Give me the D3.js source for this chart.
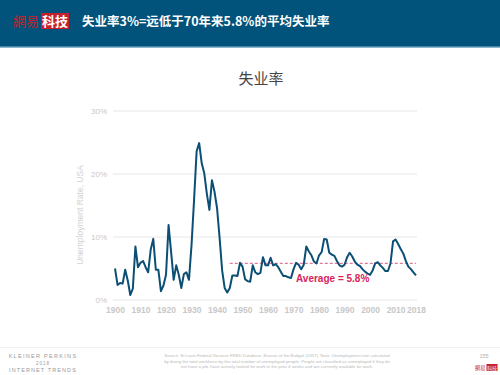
<!DOCTYPE html>
<html><head><meta charset="utf-8">
<script src="https://cdn.jsdelivr.net/npm/d3@7"></script>
<style>
html,body{margin:0;padding:0;background:#fff;}
svg{display:block;font-family:"Liberation Sans",Arial,"Noto Sans CJK SC",sans-serif;}
</style></head>
<body>
<svg id="c" width="500" height="375"></svg>
<script>
const years = d3.range(1900, 2019);
const rates = [
 5.0,2.4,2.7,2.6,4.8,3.1,0.8,1.8,8.5,5.2,
 5.9,6.2,5.2,4.4,8.0,9.7,4.8,4.8,1.4,2.3,
 4.0,11.9,7.6,3.2,5.5,4.0,1.9,4.1,4.4,3.2,
 8.7,15.9,23.6,24.9,21.7,20.1,16.9,14.3,19.0,17.2,
 14.6,9.9,4.7,1.9,1.2,1.9,3.9,3.9,3.8,5.9,
 5.3,3.3,3.0,2.9,5.5,4.4,4.1,4.3,6.8,5.5,
 5.5,6.7,5.5,5.7,5.2,4.5,3.8,3.8,3.6,3.5,
 4.9,5.9,5.6,4.9,5.6,8.5,7.7,7.1,6.1,5.8,
 7.1,7.6,9.7,9.6,7.5,7.2,7.0,6.2,5.5,5.3,
 5.6,6.8,7.5,6.9,6.1,5.6,5.4,4.9,4.5,4.2,
 4.0,4.7,5.8,6.0,5.5,5.1,4.6,4.6,5.8,9.3,
 9.6,8.9,8.1,7.4,6.2,5.3,4.9,4.4,3.9
];
const xTicks = [1900,1910,1920,1930,1940,1950,1960,1970,1980,1990,2000,2010,2018];
const yTicks = [0,10,20,30];
const average = 5.8;
const avgStart = 1945;
const headerTitle = "失业率3%=远低于70年来5.8%的平均失业率";
const chartTitle = "失业率";
const yLabel = "Unemployment Rate, USA";
const avgLabel = "Average = 5.8%";
const sourceLines = [
 "Source: St Louis Federal Reserve FRED Database, Bureau of the Budget (1957). Note: Unemployment rate calculated",
 "by diving the total workforce by the total number of unemployed people. People are classified as unemployed if they do",
 "not have a job, have actively looked for work in the prior 4 weeks and are currently available for work."
];

const svg = d3.select("#c");

// header
svg.append("rect").attr("x",0).attr("y",0).attr("width",500).attr("height",47).attr("fill","#02537B");
svg.append("rect").attr("x",0).attr("y",46.5).attr("width",500).attr("height",1.5).attr("fill","#8DB8CF");
svg.append("text").attr("x",13).attr("y",26).attr("font-size",13)
  .attr("font-family","Noto Sans CJK SC").attr("fill","#C7202B").text("網易");
svg.append("rect").attr("x",41).attr("y",13).attr("width",28).attr("height",16).attr("fill","#C7202B");
svg.append("text").attr("x",55).attr("y",26).attr("text-anchor","middle").attr("font-size",13)
  .attr("font-weight","bold").attr("font-family","Noto Sans CJK SC").attr("fill","#fff").text("科技");
svg.append("text").attr("x",82).attr("y",26).attr("font-size",12.5).attr("font-weight","bold")
  .attr("font-family","Noto Sans CJK SC").attr("fill","#fff").text(headerTitle);

// chart title
svg.append("text").attr("x",261).attr("y",84).attr("text-anchor","middle").attr("font-size",15)
  .attr("font-family","Noto Sans CJK SC").attr("fill","#444").text(chartTitle);

const x = d3.scaleLinear().domain([1900,2018]).range([115,416]);
const y = d3.scaleLinear().domain([0,30]).range([300,111]);

// grid
const g = svg.append("g");
g.selectAll("line.grid").data(yTicks).enter().append("line")
  .attr("x1",113).attr("x2",417).attr("y1",d=>y(d)).attr("y2",d=>y(d))
  .attr("stroke","#e6e6e6").attr("stroke-width",1);

// y axis
const yAxis = d3.axisLeft(y).tickValues(yTicks).tickFormat(d=>d+"%").tickSize(0).tickPadding(0);
const ya = svg.append("g").attr("transform","translate(107,0)").call(yAxis);
ya.select(".domain").remove();
ya.selectAll("text").attr("fill","#c8c8c8").attr("font-size",8).attr("font-family","Liberation Sans");

// x axis
const xAxis = d3.axisBottom(x).tickValues(xTicks).tickFormat(d3.format("d")).tickSize(0).tickPadding(0);
const xa = svg.append("g").attr("transform","translate(0,307)").call(xAxis);
xa.select(".domain").remove();
xa.selectAll("text").attr("fill","#c8c8c8").attr("font-size",8.5).attr("font-weight","bold")
  .attr("font-family","Liberation Sans").attr("dy","0.71em");

// y label
svg.append("text").attr("transform","translate(83,215) rotate(-90)").attr("text-anchor","middle")
  .attr("font-size",8.5).attr("fill","#d2d2d2").text(yLabel);

// average line
svg.append("line").attr("x1",x(avgStart)).attr("x2",x(2018)).attr("y1",y(average)).attr("y2",y(average))
  .attr("stroke","#E07A9A").attr("stroke-width",1.2).attr("stroke-dasharray","3,2");

// data line
const data = years.map((yr,i)=>({yr, v:rates[i]}));
svg.append("path").datum(data)
  .attr("d", d3.line().x(d=>x(d.yr)).y(d=>y(d.v)))
  .attr("fill","none").attr("stroke","#0B4F74").attr("stroke-width",2).attr("stroke-linejoin","round");

svg.append("text").attr("x",296).attr("y",282).attr("font-size",10).attr("font-weight","bold")
  .attr("fill","#D7245C").text(avgLabel);

// footer
svg.append("line").attr("x1",0).attr("x2",500).attr("y1",347.5).attr("y2",347.5).attr("stroke","#f2f2f2");
const ft = svg.append("g").attr("fill","#9a9a9a");
ft.append("text").attr("x",43).attr("y",358).attr("text-anchor","middle").attr("font-size",5.5)
  .attr("letter-spacing",1.3).text("KLEINER PERKINS");
ft.append("text").attr("x",43).attr("y",364.5).attr("text-anchor","middle").attr("font-size",4.5)
  .attr("letter-spacing",1).text("2018");
ft.append("text").attr("x",43).attr("y",372).attr("text-anchor","middle").attr("font-size",5.5)
  .attr("letter-spacing",1.1).text("INTERNET TRENDS");
svg.append("g").selectAll("text").data(sourceLines).enter().append("text")
  .attr("x",277).attr("y",(d,i)=>357+i*5.5).attr("text-anchor","middle").attr("font-size",4.3)
  .attr("fill","#b8b8b8").text(d=>d);
svg.append("text").attr("x",484).attr("y",358).attr("text-anchor","middle").attr("font-size",5.5)
  .attr("fill","#b0b0b0").text("155");
svg.append("text").attr("x",475).attr("y",370).attr("font-size",5.2).attr("font-family","Noto Sans CJK SC")
  .attr("fill","#C7202B").text("網易");
svg.append("rect").attr("x",486.5).attr("y",364).attr("width",11).attr("height",7).attr("fill","#C7202B");
svg.append("text").attr("x",492).attr("y",370).attr("text-anchor","middle").attr("font-size",5)
  .attr("font-family","Noto Sans CJK SC").attr("fill","#fff").text("科技");
</script>
</body></html>
